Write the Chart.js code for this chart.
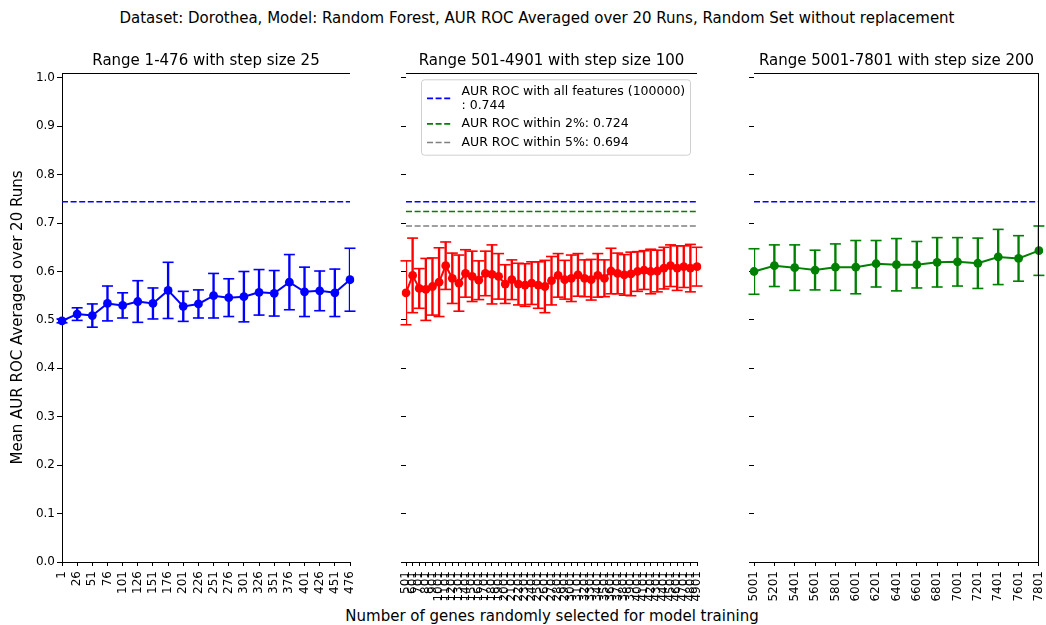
<!DOCTYPE html>
<html>
<head>
<meta charset="utf-8">
<script src="https://cdn.jsdelivr.net/npm/chart.js@4.4.1/dist/chart.umd.min.js"></script>
<style>
  html, body { margin: 0; padding: 0; background: #ffffff; }
  body { position: relative; width: 1046px; height: 625px; overflow: hidden; font-family: "DejaVu Sans", sans-serif; }
  canvas { position: absolute; left: 0; top: 0; }
  .label { position: absolute; text-align: center; font: 15px/18px "DejaVu Sans", sans-serif;
           color: #000; white-space: nowrap; }
  #sup { left: 14px; top: 9px; width: 1046px; }
  #xlabel { left: 252px; top: 607px; width: 600px; }
</style>
</head>
<body>
<div id="sup" class="label">Dataset: Dorothea, Model: Random Forest, AUR ROC Averaged over 20 Runs, Random Set without replacement</div>
<div id="xlabel" class="label">Number of genes randomly selected for model training</div>
<canvas id="pLow" width="1046" height="625"></canvas>
<canvas id="pMid" width="1046" height="625"></canvas>
<canvas id="pHigh" width="1046" height="625"></canvas>
<script>
// ---- gene-count ranges (x categories) ----
const lowLabels = ['1','26','51','76','101','126','151','176','201','226','251','276','301','326','351','376','401','426','451','476'];
const midLabels = ['501','601','701','801','901','1001','1101','1201','1301','1401','1501','1601','1701','1801','1901',
                   '2001','2101','2201','2301','2401','2501','2601','2701','2801','2901','3001','3101','3201','3301','3401',
                   '3501','3601','3701','3801','3901','4001','4101','4201','4301','4401','4501','4601','4701','4801','4901'];
const highLabels = ['5001','5201','5401','5601','5801','6001','6201','6401','6601','6801','7001','7201','7401','7601','7801'];

// ---- mean AUR ROC over 20 runs, and its spread (error bar half-length) ----
const lowMean = [0.498,0.512,0.509,0.534,0.530,0.538,0.534,0.561,0.528,0.533,0.550,0.546,0.548,0.557,0.555,0.578,0.558,0.560,0.556,0.583];
const lowStd  = [0.004,0.013,0.024,0.036,0.026,0.043,0.032,0.058,0.031,0.029,0.046,0.039,0.052,0.047,0.047,0.057,0.051,0.041,0.049,0.065];

const midMean = [0.556,0.592,0.565,0.563,0.569,0.578,0.612,0.586,0.576,0.596,0.590,0.582,0.596,0.594,0.590,
                 0.574,0.583,0.574,0.572,0.576,0.572,0.569,0.581,0.592,0.583,0.586,0.593,0.586,0.583,0.592,
                 0.586,0.601,0.596,0.593,0.595,0.600,0.603,0.600,0.601,0.607,0.612,0.607,0.610,0.607,0.610];
const midStd  = [0.066,0.077,0.041,0.064,0.059,0.071,0.049,0.052,0.058,0.049,0.052,0.040,0.046,0.061,0.047,
                 0.040,0.041,0.043,0.044,0.044,0.048,0.054,0.050,0.045,0.040,0.048,0.044,0.038,0.042,0.045,
                 0.038,0.047,0.042,0.042,0.045,0.041,0.040,0.046,0.043,0.043,0.043,0.046,0.043,0.049,0.040];

const highMean = [0.600,0.612,0.608,0.603,0.609,0.609,0.616,0.614,0.614,0.619,0.620,0.617,0.630,0.627,0.643];
const highStd  = [0.047,0.043,0.047,0.041,0.048,0.055,0.048,0.054,0.048,0.051,0.050,0.052,0.057,0.047,0.051];

// ---- reference levels ----
const aucAllFeatures = 0.744;
const aucWithin2 = 0.724;
const aucWithin5 = 0.694;

// ---- y axis ----
const yMin = 0.0, yMax = 1.01, yStep = 0.1;

const FONT = '"DejaVu Sans", sans-serif';
Chart.defaults.font.family = FONT;
Chart.defaults.color = '#000';

// top (and optionally right) spine around the plot area
const framePlugin = {
  id: 'frame',
  afterDraw(chart, args, opts) {
    const { ctx, chartArea: a } = chart;
    ctx.save();
    ctx.strokeStyle = '#000';
    ctx.lineWidth = 1;
    ctx.beginPath();
    const t = Math.floor(a.top) + 0.5;
    ctx.moveTo(a.left, t);
    ctx.lineTo(a.right, t);
    if (opts.right) {
      const r = Math.floor(a.right) + 0.5;
      ctx.moveTo(r, a.top);
      ctx.lineTo(r, a.bottom);
    }
    ctx.stroke();
    ctx.restore();
  }
};

// legend of the reference lines, boxed inside the plot area
const refLegendPlugin = {
  id: 'refLegend',
  afterDatasetsDraw(chart, args, opts) {
    if (!opts.show) return;
    const { ctx, chartArea: a } = chart;
    const items = chart.data.datasets.filter(d => d.refLine);
    const x0 = a.left + 15, y0 = a.top + 6.3, w = 269, lh = 13.8, gap = 4.8, pad = 5.3;
    let total = pad * 2;
    items.forEach((d, i) => { total += d.label.split('\n').length * lh + (i ? gap : 0); });
    ctx.save();
    ctx.beginPath();
    ctx.roundRect(x0 + 0.5, y0 + 0.5, w, total, 3);
    ctx.fillStyle = 'rgba(255,255,255,0.8)';
    ctx.fill();
    ctx.strokeStyle = '#d0d0d0';
    ctx.lineWidth = 1;
    ctx.stroke();
    ctx.font = '12.5px ' + FONT;
    ctx.textBaseline = 'middle';
    ctx.textAlign = 'left';
    let y = y0 + pad;
    items.forEach((d, i) => {
      if (i) y += gap;
      const lines = d.label.split('\n');
      const mid = y + lines.length * lh / 2;
      ctx.beginPath();
      ctx.setLineDash(d.borderDash);
      ctx.strokeStyle = d.borderColor;
      ctx.lineWidth = d.borderWidth;
      ctx.moveTo(x0 + 6, mid);
      ctx.lineTo(x0 + 30, mid);
      ctx.stroke();
      ctx.setLineDash([]);
      ctx.fillStyle = '#000';
      lines.forEach((t, k) => ctx.fillText(t, x0 + 40.5, y + lh * k + lh / 2));
      y += lines.length * lh;
    });
    ctx.restore();
  }
};

function refLine(labels, value, color, label) {
  return {
    type: 'line', label, refLine: true,
    data: [{ x: labels[0], y: value }, { x: labels[labels.length - 1], y: value }],
    borderColor: color, borderWidth: 1.6, borderDash: [6, 2.6],
    pointRadius: 0, pointHoverRadius: 0, order: 0
  };
}

function makePanel(id, o) {
  const lo = o.mean.map((m, i) => m - o.std[i]);
  const hi = o.mean.map((m, i) => m + o.std[i]);
  const cap = v => ({
    type: 'line', data: v, showLine: false, pointStyle: 'line',
    pointRadius: 5.5, pointHoverRadius: 5.5, pointBorderWidth: 1.6,
    borderColor: o.color, backgroundColor: o.color, order: 2
  });
  const datasets = [
    { type: 'line', data: o.mean, borderColor: o.color, backgroundColor: o.color,
      borderWidth: 2, pointRadius: 4.4, pointHoverRadius: 4.4, pointBorderWidth: 0, tension: 0, order: 1 },
    { type: 'bar', data: o.mean.map((m, i) => [lo[i], hi[i]]), backgroundColor: o.color,
      barThickness: 1.7, borderWidth: 0, order: 3 },
    cap(lo), cap(hi),
    ...o.refs
  ];
  return new Chart(document.getElementById(id), {
    type: 'line',
    data: { labels: o.labels, datasets },
    plugins: [framePlugin, refLegendPlugin],
    options: {
      responsive: false, animation: false, devicePixelRatio: 1,
      events: [],
      layout: { padding: { left: o.padL, right: o.padR, top: 52, bottom: 0 } },
      plugins: {
        legend: { display: false },
        tooltip: { enabled: false },
        title: { display: true, text: o.title, fullSize: false, color: '#000',
                 font: { size: 15, weight: 'normal' }, padding: { top: 0, bottom: 3 } },
        frame: { right: !!o.rightSpine },
        refLegend: { show: !!o.legend }
      },
      scales: {
        x: {
          type: 'category', offset: false,
          grid: { offset: false, drawOnChartArea: false, color: '#000', tickLength: 4, lineWidth: 1 },
          border: { display: true, color: '#000', width: 1 },
          ticks: { autoSkip: false, minRotation: 90, maxRotation: 90, color: '#000',
                   font: { size: 12 }, padding: 5 },
          afterFit(s) { s.height = 63; s.paddingLeft = 0; s.paddingRight = 0; }
        },
        y: {
          min: yMin, max: yMax,
          grid: { drawOnChartArea: false, color: '#000', tickLength: 5, lineWidth: 1 },
          border: { display: !!o.yTitle, color: '#000', width: 1 },
          ticks: { stepSize: yStep, includeBounds: false, display: !!o.yTitle, color: '#000',
                   font: { size: 12 }, padding: 2, callback: v => v.toFixed(1) },
          title: o.yTitle ? { display: true, text: o.yTitle, color: '#000',
                              font: { size: 15 }, padding: { top: 9, bottom: 0 } } : { display: false },
          afterFit(s) { s.width = o.yWidth; s.paddingTop = 0; s.paddingBottom = 0; }
        }
      }
    }
  });
}

makePanel('pLow', {
  labels: lowLabels, mean: lowMean, std: lowStd, color: '#0000ff',
  title: 'Range 1-476 with step size 25',
  yTitle: 'Mean AUR ROC Averaged over 20 Runs',
  padL: 0, yWidth: 62, padR: 1046 - 350,
  refs: [refLine(lowLabels, aucAllFeatures, '#0000ff', 'AUR ROC with all features (100000)\n: ' + aucAllFeatures)]
});

makePanel('pMid', {
  labels: midLabels, mean: midMean, std: midStd, color: '#ff0000',
  title: 'Range 501-4901 with step size 100',
  padL: 400, yWidth: 6, padR: 1046 - 697, legend: true,
  refs: [
    refLine(midLabels, aucAllFeatures, '#0000ff', 'AUR ROC with all features (100000)\n: ' + aucAllFeatures),
    refLine(midLabels, aucWithin2, '#008000', 'AUR ROC within 2%: ' + aucWithin2),
    refLine(midLabels, aucWithin5, '#808080', 'AUR ROC within 5%: ' + aucWithin5)
  ]
});

makePanel('pHigh', {
  labels: highLabels, mean: highMean, std: highStd, color: '#008000',
  title: 'Range 5001-7801 with step size 200',
  padL: 748, yWidth: 6, padR: 1046 - 1043, rightSpine: true,
  refs: [refLine(highLabels, aucAllFeatures, '#0000ff', 'AUR ROC with all features (100000)\n: ' + aucAllFeatures)]
});
</script>
</body>
</html>
